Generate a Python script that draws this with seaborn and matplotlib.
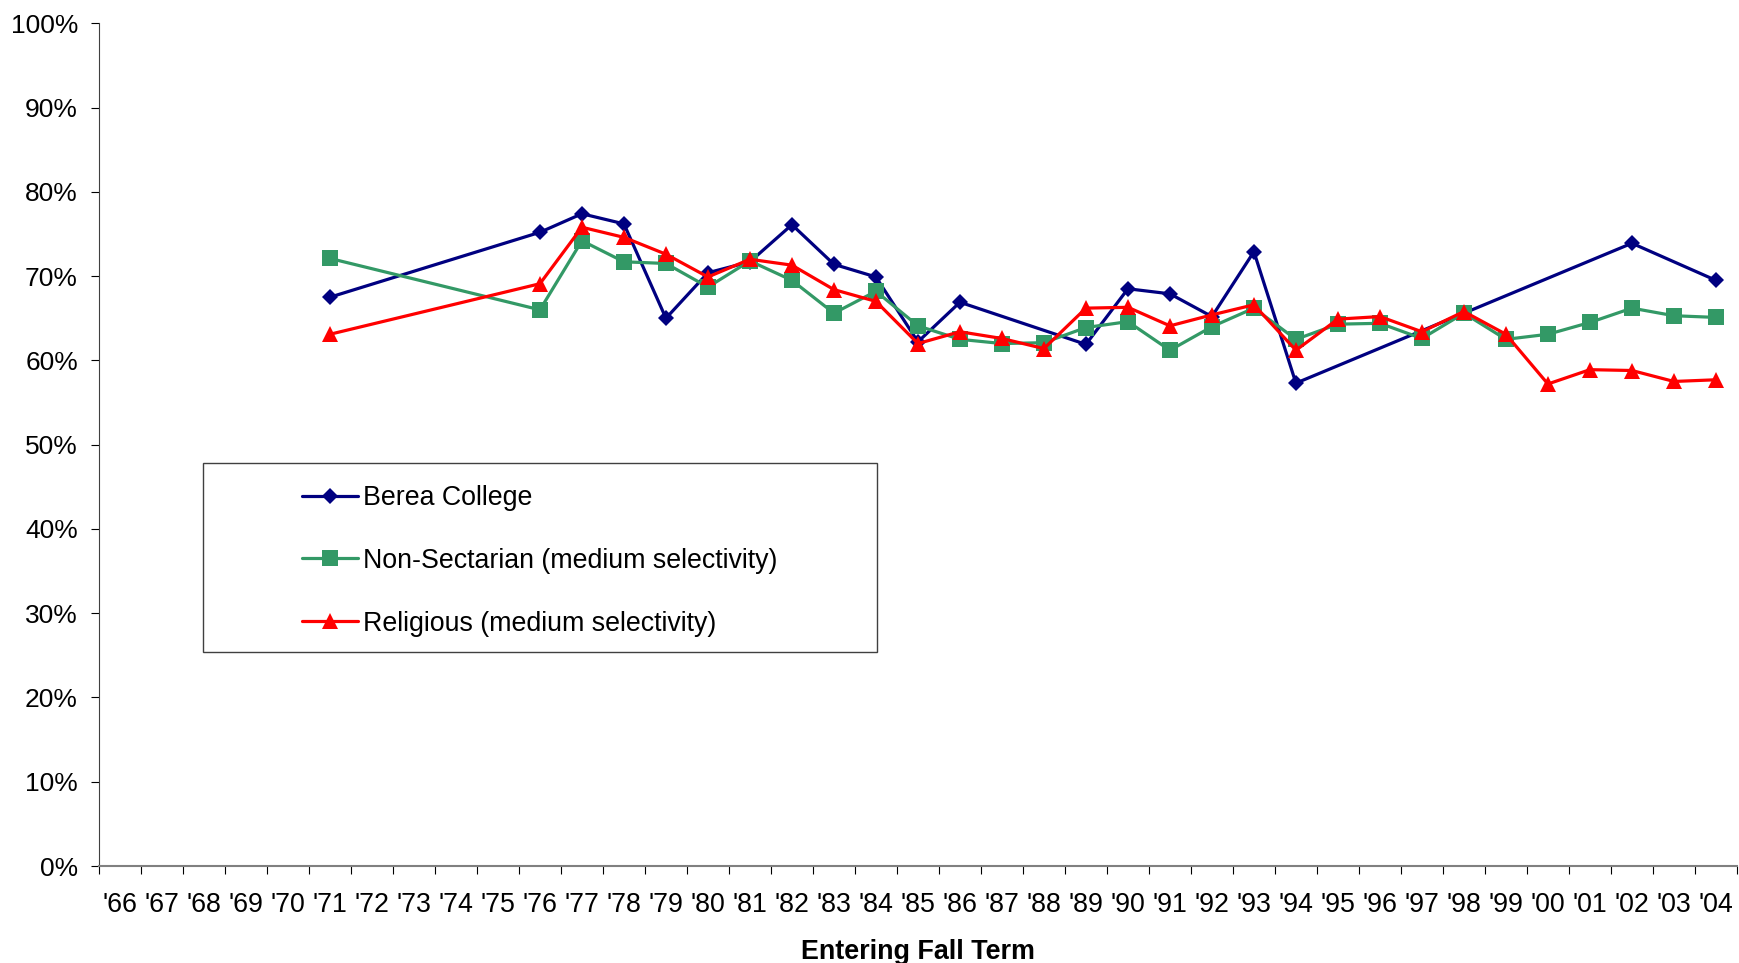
import numpy as np
import pandas as pd
import seaborn as sns
import matplotlib
matplotlib.use("Agg")
import matplotlib.pyplot as plt
from matplotlib.lines import Line2D
from matplotlib.patches import Rectangle

# ---- data ----
first_year, last_year = 1966, 2004
year_labels = ["'%02d" % (y % 100) for y in range(first_year, last_year + 1)]

berea_years = [1971, 1976, 1977, 1978, 1979, 1980, 1981, 1982, 1983, 1984,
               1985, 1986, 1989, 1990, 1991, 1992, 1993, 1994, 2002, 2004]
berea_values = [67.5, 75.2, 77.4, 76.2, 65.0, 70.4, 71.7, 76.1, 71.4, 69.9,
                62.2, 66.9, 61.9, 68.5, 67.9, 65.2, 72.9, 57.3, 73.9, 69.5]

nonsect_years = [1971] + list(range(1976, 2005))
nonsect_values = [72.1, 66.0, 74.2, 71.7, 71.5, 68.7, 71.8, 69.5, 65.6, 68.2,
                  64.1, 62.5, 62.0, 62.1, 63.9, 64.6, 61.2, 64.0, 66.2, 62.5,
                  64.3, 64.4, 62.6, 65.6, 62.5, 63.1, 64.5, 66.2, 65.3, 65.1]

relig_years = [1971] + list(range(1976, 2005))
relig_values = [63.1, 69.1, 75.8, 74.6, 72.6, 69.9, 72.0, 71.3, 68.4, 67.0,
                62.0, 63.4, 62.6, 61.4, 66.2, 66.3, 64.1, 65.4, 66.6, 61.2,
                64.9, 65.2, 63.4, 65.8, 63.1, 57.2, 58.9, 58.8, 57.5, 57.7]

series_names = ["Berea College",
                "Non-Sectarian (medium selectivity)",
                "Religious (medium selectivity)"]
colors = ["#000080", "#339966", "#FF0000"]
markers = ["D", "s", "^"]
marker_sizes = [8.3, 11.0, 12.0]

# long table for seaborn
frames = []
for name, yrs, vals in zip(series_names,
                           [berea_years, nonsect_years, relig_years],
                           [berea_values, nonsect_values, relig_values]):
    frames.append(pd.DataFrame({"pos": [y - first_year for y in yrs],
                                "value": vals, "series": name}))
df = pd.concat(frames, ignore_index=True)

# ---- style ----
sns.set_style("white")
plt.rcParams['font.family'] = ['Liberation Sans', 'DejaVu Sans']
plt.rcParams['text.color'] = 'black'
plt.rcParams['axes.labelcolor'] = 'black'
plt.rcParams['xtick.color'] = 'black'
plt.rcParams['ytick.color'] = 'black'

fig = plt.figure(figsize=(17.39, 9.63), dpi=100)
ax = fig.add_axes([0.0569, 0.1007, 0.9419, 0.8751])

sns.lineplot(data=df, x="pos", y="value", hue="series", style="series",
             hue_order=series_names, style_order=series_names,
             palette=dict(zip(series_names, colors)),
             markers=dict(zip(series_names, markers)), dashes=False,
             linewidth=2.3, markeredgewidth=0, legend=False, ax=ax)

for line, ms in zip(ax.lines, marker_sizes):
    line.set_markersize(ms)

# ---- axes ----
n = len(year_labels)
ax.set_xlim(-0.5, n - 0.5)
ax.set_ylim(0, 100)
ax.set_xticks(np.arange(-0.5, n, 1.0))
ax.set_xticklabels([])
ax.set_xticks(np.arange(n), minor=True)
ax.set_xticklabels(year_labels, minor=True)
ax.tick_params(axis="x", which="major", direction="out", length=5.8,
               width=0.8, color="black", bottom=True)
ax.tick_params(axis="x", which="minor", length=0, pad=18.5, labelsize=19.3,
               labelcolor="black")

ax.set_yticks(np.arange(0, 101, 10))
ax.set_yticklabels(["%d%%" % v for v in range(0, 101, 10)])
ax.tick_params(axis="y", direction="out", length=5.5, width=0.8,
               color="black", left=True, pad=9.6, labelsize=19,
               labelcolor="black")

for side in ["top", "right"]:
    ax.spines[side].set_visible(False)
ax.spines["left"].set_color("#404040")
ax.spines["left"].set_linewidth(0.8)
ax.spines["bottom"].set_color("#808080")
ax.spines["bottom"].set_linewidth(1.5)

ax.set_xlabel("Entering Fall Term", fontsize=19.4, fontweight="bold",
              labelpad=15.5, color="black")
ax.set_ylabel("")

# ---- legend ----
ax.add_patch(Rectangle((0.0637, 0.2543), 0.4115, 0.2236,
                       transform=ax.transAxes, facecolor="white",
                       edgecolor="#404040", linewidth=1.0, zorder=4))
handles = [Line2D([], [], color=c, marker=m, markersize=ms, linewidth=2.3,
                  markeredgewidth=0)
           for c, m, ms in zip(colors, markers, marker_sizes)]
leg = ax.legend(handles, series_names, loc="upper left",
                bbox_to_anchor=(0.1237, 0.452), frameon=False, borderpad=0,
                borderaxespad=0, handlelength=2.1, handletextpad=0.2,
                labelspacing=1.37, fontsize=19.3, numpoints=1,
                labelcolor="black")
leg.set_zorder(5)

fig.savefig("out.png", dpi=100)
